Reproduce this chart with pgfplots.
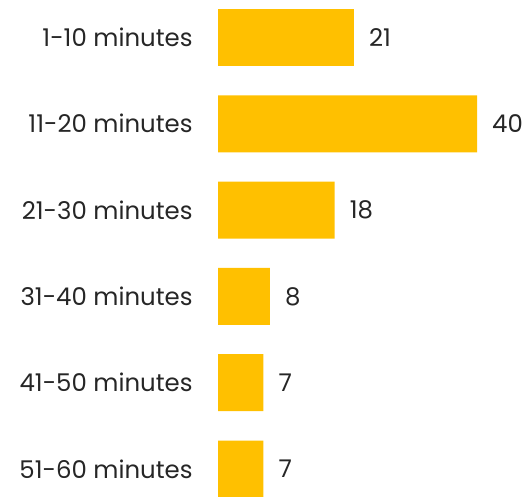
\documentclass[border=0pt]{standalone}
\usepackage{pgfplots}
\pgfplotsset{compat=1.18}
\usepackage{fontspec}
\setmainfont{Poppins}
\definecolor{bargold}{HTML}{FFC000}
\definecolor{txt}{HTML}{262626}
\begin{document}
\begin{tikzpicture}[x=1bp,y=1bp]
\useasboundingbox (0,0) rectangle (524,-497);
\begin{axis}[
  at={(218bp,-37.5bp)}, anchor=origin,
  xbar, scale only axis,
  width=259bp, height=431.5bp,
  xmin=0, xmax=40, ymin=0, ymax=5,
  y dir=reverse,
  clip=false,
  axis line style={draw=none},
  tick style={draw=none},
  xtick=\empty,
  ytick={0,1,2,3,4,5},
  yticklabels={1-10 minutes,11-20 minutes,21-30 minutes,31-40 minutes,41-50 minutes,51-60 minutes},
  yticklabel style={anchor=east, inner sep=0pt, xshift=-21bp, font=\fontsize{24.5}{28}\selectfont, text=txt},
  bar width=0.66,
  nodes near coords,
  nodes near coords style={anchor=west, inner sep=0pt, xshift=15bp, font=\fontsize{24.5}{28}\selectfont, text=txt},
  /pgf/number format/assume math mode=true,
]
\addplot[fill=bargold, draw=none] coordinates {(21,0) (40,1) (18,2) (8,3) (7,4) (7,5)};
\end{axis}
\end{tikzpicture}
\end{document}
